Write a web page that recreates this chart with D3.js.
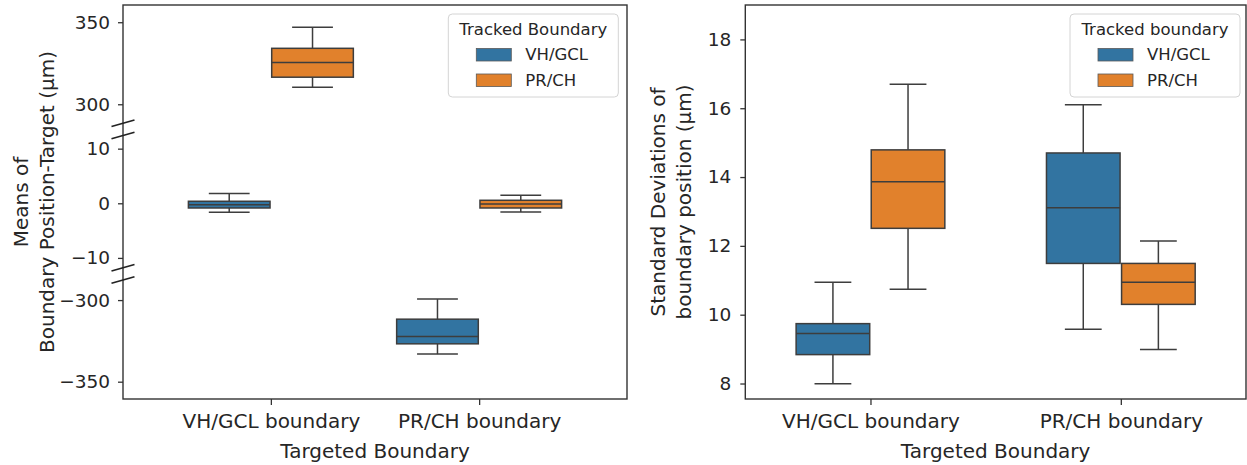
<!DOCTYPE html>
<html>
<head>
<meta charset="utf-8">
<script src="https://cdn.jsdelivr.net/npm/d3@7"></script>
<style>
  body { margin: 0; background: #fff; }
  text { font-family: "DejaVu Sans", sans-serif; fill: #262626; }
</style>
</head>
<body>
<svg id="fig" width="1247" height="465"></svg>
<script>
// ---- data ----
const targets = ["VH/GCL boundary", "PR/CH boundary"];
const trackedSeries = ["VH/GCL", "PR/CH"];

// box statistics per target: [lower whisker, Q1, median, Q3, upper whisker]
const meanVhGcl = [[-1.65, -0.86, -0.25, 0.37, 1.78], [-333.1, -326.8, -322.3, -311.7, -299.4]];
const meanPrCh  = [[310.4, 316.5, 325.4, 334.1, 347.0], [-1.6, -0.86, -0.15, 0.55, 1.47]];
const sdVhGcl   = [[7.99, 8.84, 9.45, 9.74, 10.94], [9.58, 11.49, 13.11, 14.70, 16.10]];
const sdPrCh    = [[10.74, 12.51, 13.86, 14.79, 16.70], [8.99, 10.30, 10.94, 11.49, 12.14]];

// broken y axis of the means panel, top segment first
const meanSegments = [[288.4, 360.5], [-11.8, 12.4], [-360.6, -287.7]];
const meanTicks = [[300, 350], [-10, 0, 10], [-350, -300]];
const sdDomain = [7.55, 19.0];
const sdTicks = [8, 10, 12, 14, 16, 18];

const palette = ["#3274a1", "#e1812c"];
const lineColor = "#3d3d3d";
const spineColor = "#333";

const svg = d3.select("#fig");

function styleAxis(g, fontSize) {
  g.select(".domain").remove();
  g.selectAll(".tick line").attr("stroke", spineColor).attr("stroke-width", 1.3);
  g.selectAll(".tick text").style("font-size", fontSize + "px").attr("fill", "#262626");
}

function drawBoxes(g, x, y, series, boxFrac) {
  const step = x.step();
  const hueW = step * boxFrac;
  const boxW = hueW * 0.98;
  series.forEach((stats, j) => {
    stats.forEach((s, i) => {
      const cx = x(targets[i]) + (j - 0.5) * hueW;
      const [lo, q1, med, q3, hi] = s;
      const bg = g.append("g");
      // whiskers
      bg.append("line").attr("x1", cx).attr("x2", cx).attr("y1", y(q3)).attr("y2", y(hi));
      bg.append("line").attr("x1", cx).attr("x2", cx).attr("y1", y(q1)).attr("y2", y(lo));
      bg.append("line").attr("x1", cx - boxW / 4).attr("x2", cx + boxW / 4).attr("y1", y(hi)).attr("y2", y(hi));
      bg.append("line").attr("x1", cx - boxW / 4).attr("x2", cx + boxW / 4).attr("y1", y(lo)).attr("y2", y(lo));
      bg.selectAll("line").attr("stroke", lineColor).attr("stroke-width", 1.5);
      // box
      bg.append("rect")
        .attr("x", cx - boxW / 2).attr("width", boxW)
        .attr("y", y(q3)).attr("height", Math.max(0.5, y(q1) - y(q3)))
        .attr("fill", palette[j]).attr("stroke", lineColor).attr("stroke-width", 1.5);
      // median
      bg.append("line").attr("x1", cx - boxW / 2).attr("x2", cx + boxW / 2)
        .attr("y1", y(med)).attr("y2", y(med))
        .attr("stroke", lineColor).attr("stroke-width", 1.5);
    });
  });
}

function drawLegend(x0, y0, title) {
  const lg = svg.append("g").attr("transform", `translate(${x0},${y0})`);
  lg.append("rect").attr("width", 170).attr("height", 83).attr("rx", 4)
    .attr("fill", "#fff").attr("fill-opacity", 0.85)
    .attr("stroke", "#d4d4d4").attr("stroke-width", 1);
  lg.append("text").attr("x", 85).attr("y", 21).attr("text-anchor", "middle")
    .style("font-size", "16.5px").text(title);
  trackedSeries.forEach((name, j) => {
    const yy = 34.5 + j * 25.5;
    lg.append("rect").attr("x", 28).attr("y", yy).attr("width", 35).attr("height", 12.5)
      .attr("fill", palette[j]).attr("stroke", "#5a5a5a").attr("stroke-width", 0.8);
    lg.append("text").attr("x", 77).attr("y", yy + 11.5)
      .style("font-size", "16.5px").text(name);
  });
}

function frameAndXAxis(p, x) {
  const ax = svg.append("g").attr("transform", `translate(0,${p.y1})`)
    .call(d3.axisBottom(x).tickSize(6).tickPadding(9));
  styleAxis(ax, 20);
  svg.append("rect").attr("x", p.x0).attr("y", p.y0)
    .attr("width", p.x1 - p.x0).attr("height", p.y1 - p.y0)
    .attr("fill", "none").attr("stroke", spineColor).attr("stroke-width", 1.4);
  svg.append("text").attr("x", (p.x0 + p.x1) / 2).attr("y", 457.5)
    .attr("text-anchor", "middle").style("font-size", "20px").text("Targeted Boundary");
}

function yLabel(xs, yc, lines) {
  lines.forEach((t, k) => {
    svg.append("text")
      .attr("transform", `translate(${xs[k]},${yc}) rotate(-90)`)
      .attr("text-anchor", "middle").attr("dy", "0.35em")
      .style("font-size", "20px").text(t);
  });
}

// ---- left panel: means with a broken y axis ----
{
  const p = { x0: 123, x1: 627, y0: 5, y1: 399 };
  const segHeights = [118.3, 132.2, 119];
  const gap = (p.y1 - p.y0 - d3.sum(segHeights)) / 2;
  let top = p.y0;
  const segScales = meanSegments.map((dom, k) => {
    const s = d3.scaleLinear().domain(dom).range([top + segHeights[k], top]);
    top += segHeights[k] + gap;
    return s;
  });
  const y = v => {
    const k = meanSegments.findIndex(d => v >= d[0] && v <= d[1]);
    return segScales[k](v);
  };
  const x = d3.scalePoint().domain(targets).range([p.x0, p.x1]).padding(0.71);

  const g = svg.append("g");
  drawBoxes(g, x, y, [meanVhGcl, meanPrCh], 0.4);

  segScales.forEach((s, k) => {
    const ax = svg.append("g").attr("transform", `translate(${p.x0},0)`)
      .call(d3.axisLeft(s).tickValues(meanTicks[k]).tickSize(5).tickPadding(8));
    styleAxis(ax, 18.5);
  });
  frameAndXAxis(p, x);

  // diagonal break marks at the inner edges of each segment
  const edges = [];
  segScales.forEach((s, k) => {
    const r = s.range();
    if (k > 0) edges.push(r[1]);
    if (k < segScales.length - 1) edges.push(r[0]);
  });
  svg.append("g").selectAll("line").data(edges).join("line")
    .attr("x1", p.x0 - 11.5).attr("x2", p.x0 + 11.5)
    .attr("y1", d => d + 3.3).attr("y2", d => d - 3.3)
    .attr("stroke", "#222").attr("stroke-width", 1.6);

  yLabel([21, 47], 202, ["Means of", "Boundary Position-Target (μm)"]);
  drawLegend(448.3, 14, "Tracked Boundary");
}

// ---- right panel: standard deviations ----
{
  const p = { x0: 745.3, x1: 1246, y0: 5, y1: 399 };
  const y = d3.scaleLinear().domain(sdDomain).range([p.y1, p.y0]);
  const x = d3.scalePoint().domain(targets).range([p.x0, p.x1]).padding(0.5);

  const g = svg.append("g");
  drawBoxes(g, x, y, [sdVhGcl, sdPrCh], 0.3);

  const ax = svg.append("g").attr("transform", `translate(${p.x0},0)`)
    .call(d3.axisLeft(y).tickValues(sdTicks).tickSize(5).tickPadding(9));
  styleAxis(ax, 18.5);
  frameAndXAxis(p, x);

  yLabel([658, 684], 202, ["Standard Deviations of", "boundary position (μm)"]);
  drawLegend(1070, 14, "Tracked boundary");
}
</script>
</body>
</html>
